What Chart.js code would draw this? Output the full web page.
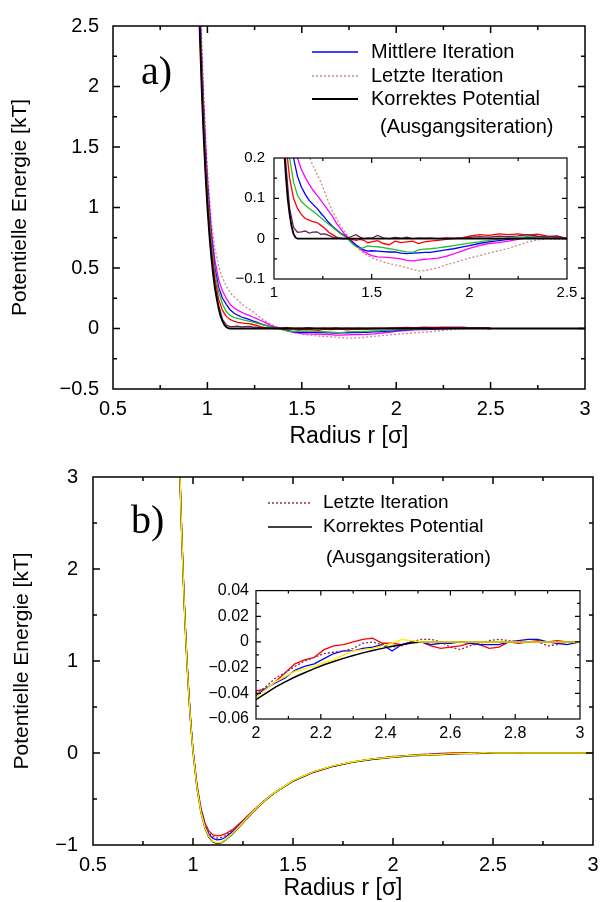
<!DOCTYPE html>
<html>
<head>
<meta charset="utf-8">
<script src="https://cdn.jsdelivr.net/npm/chart.js@4.4.0/dist/chart.umd.min.js"></script>
<style>
  body { margin: 0; background: #fff; }
  #fig { position: relative; width: 600px; height: 902px; overflow: hidden; background: #fff; }
  canvas { position: absolute; }
</style>
</head>
<body>
<div id="fig">
  <canvas id="mainA" width="600" height="450" style="left:0;top:0"></canvas>
  <canvas id="insetA" width="360" height="165" style="left:224px;top:140px"></canvas>
  <canvas id="mainB" width="600" height="452" style="left:0;top:450px"></canvas>
  <canvas id="insetB" width="400" height="172" style="left:196px;top:574px"></canvas>
</div>
<script>
// ---- panel a) : repulsive potential, iterations ----
const rA = [0.95, 0.96, 0.97, 0.98, 0.99, 1.00, 1.02, 1.04, 1.06, 1.08, 1.10, 1.12, 1.14, 1.16, 1.18, 1.20,
  1.22, 1.24, 1.26, 1.28, 1.30, 1.32, 1.34, 1.36, 1.38, 1.40, 1.42, 1.44, 1.46, 1.48, 1.50, 1.53, 1.56, 1.59,
  1.62, 1.65, 1.68, 1.71, 1.74, 1.77, 1.80, 1.84, 1.88, 1.92, 1.96, 2.00, 2.05, 2.10, 2.15, 2.20, 2.25, 2.30,
  2.35, 2.40, 2.45, 2.50];

const uPurpleA = [3.0, 2.48, 2.02, 1.64, 1.31, 1.04, 0.63, 0.36, 0.19, 0.075, 0.028, 0.016, 0.017, 0.019, 0.014, 0.016,
  0.017, 0.011, 0.012, 0.008, 0.004, 0.003, 0.001, 0.0, 0.002, 0.006, 0.01, 0.004, 0.0, 0.002, 0.001, 0.008, 0.002, 0.0,
  0.003, 0.001, 0.004, 0.0, 0.002, 0.001, 0.002, 0.0, 0.002, 0.001, 0.002, 0.003, 0.005, 0.004, 0.006, 0.005, 0.007, 0.01,
  0.006, 0.005, 0.006, 0.0];

const uRedA = [3.05, 2.55, 2.10, 1.71, 1.38, 1.10, 0.68, 0.41, 0.24, 0.15, 0.10, 0.075, 0.06, 0.05, 0.046, 0.042,
  0.04, 0.033, 0.026, 0.016, 0.01, 0.004, 0.001, 0.0, 0.0, -0.002, -0.004, -0.002, -0.004, -0.01, -0.008, -0.005, -0.012, -0.015,
  -0.006, -0.01, -0.008, -0.006, -0.012, -0.008, -0.006, -0.004, -0.002, 0.0, 0.002, 0.006, 0.01, 0.008, 0.012, 0.01, 0.012, 0.009,
  0.011, 0.006, 0.004, 0.0];

const uGreenA = [3.1, 2.6, 2.15, 1.76, 1.43, 1.15, 0.73, 0.46, 0.30, 0.20, 0.14, 0.108, 0.092, 0.083, 0.075, 0.068,
  0.06, 0.052, 0.044, 0.036, 0.028, 0.02, 0.012, 0.006, -0.002, -0.012, -0.02, -0.024, -0.022, -0.018, -0.019, -0.02, -0.022, -0.025,
  -0.027, -0.03, -0.033, -0.034, -0.028, -0.026, -0.025, -0.023, -0.02, -0.017, -0.014, -0.011, -0.008, -0.004, -0.002, 0.002, 0.003, 0.005,
  0.004, 0.004, 0.003, 0.0];

const uBlueA = [3.15, 2.64, 2.19, 1.8, 1.47, 1.19, 0.77, 0.50, 0.34, 0.25, 0.20, 0.155, 0.128, 0.11, 0.095, 0.085,
  0.075, 0.063, 0.052, 0.04, 0.03, 0.022, 0.014, 0.008, 0.0, -0.008, -0.016, -0.022, -0.028, -0.031, -0.03, -0.031, -0.032, -0.033,
  -0.033, -0.036, -0.037, -0.036, -0.035, -0.034, -0.034, -0.031, -0.028, -0.025, -0.021, -0.017, -0.012, -0.008, -0.005, -0.002, 0.0, 0.003,
  0.004, 0.005, 0.006, 0.0];

const uMagentaA = [3.25, 2.72, 2.26, 1.87, 1.54, 1.25, 0.83, 0.56, 0.40, 0.31, 0.25, 0.2, 0.172, 0.152, 0.135, 0.12,
  0.108, 0.095, 0.082, 0.068, 0.055, 0.038, 0.025, 0.012, 0.003, -0.006, -0.016, -0.025, -0.032, -0.037, -0.042, -0.045, -0.046, -0.047,
  -0.048, -0.05, -0.054, -0.055, -0.053, -0.051, -0.05, -0.048, -0.044, -0.038, -0.031, -0.024, -0.017, -0.012, -0.01, -0.006, -0.002, 0.002,
  0.003, 0.004, 0.004, 0.0];

const uLetzteA = [3.4, 2.85, 2.38, 1.98, 1.62, 1.32, 0.9, 0.66, 0.51, 0.42, 0.35, 0.30, 0.265, 0.235, 0.205, 0.18,
  0.16, 0.14, 0.115, 0.09, 0.068, 0.05, 0.032, 0.018, 0.005, -0.006, -0.018, -0.028, -0.036, -0.042, -0.047, -0.053, -0.058, -0.062,
  -0.065, -0.068, -0.072, -0.076, -0.08, -0.079, -0.077, -0.072, -0.065, -0.06, -0.054, -0.048, -0.042, -0.036, -0.03, -0.024, -0.016, -0.008,
  -0.003, 0.0, -0.002, 0.0];

const rKorrektA = [0.95, 0.96, 0.97, 0.98, 0.99, 1.00, 1.01, 1.02, 1.03, 1.04, 1.05, 1.06, 1.07, 1.08, 1.09, 1.10, 1.11, 1.12, 3.0];
const uKorrektA = [2.96, 2.42, 1.97, 1.59, 1.27, 1.00, 0.78, 0.60, 0.45, 0.33, 0.24, 0.16, 0.10, 0.06, 0.03, 0.012, 0.003, 0.0, 0.0];

// ---- panel b) : full potential, iterations ----
const rB = [0.93, 0.94, 0.95, 0.96, 0.97, 0.98, 0.99, 1.00, 1.02, 1.04, 1.06, 1.08, 1.10, 1.12, 1.14, 1.16,
  1.20, 1.25, 1.30, 1.35, 1.40, 1.50, 1.60, 1.70, 1.80, 1.90, 2.00, 2.03, 2.06, 2.09, 2.12, 2.15, 2.18, 2.21,
  2.24, 2.27, 2.30, 2.33, 2.36, 2.39, 2.42, 2.45, 2.48, 2.51, 2.54, 2.57, 2.60, 2.63, 2.66, 2.69, 2.72, 2.75,
  2.78, 2.81, 2.84, 2.87, 2.90, 2.93, 2.96, 3.00];

const uKorrektB = [3.39, 2.62, 1.98, 1.43, 0.98, 0.60, 0.28, 0.016, -0.382, -0.647, -0.816, -0.916, -0.967, -0.984, -0.976, -0.951,
  -0.875, -0.757, -0.641, -0.535, -0.444, -0.304, -0.208, -0.143, -0.098, -0.067, -0.045, -0.040, -0.0352, -0.0311, -0.0273, -0.024, -0.0208, -0.0178,
  -0.0152, -0.0128, -0.0105, -0.0085, -0.0066, -0.005, -0.0034, -0.0021, -0.0008, 0.0, 0.0, 0.0, 0.0, 0.0, 0.0, 0.0, 0.0, 0.0,
  0.0, 0.0, 0.0, 0.0, 0.0, 0.0, 0.0, 0.0];

const uYellowB = [3.39, 2.62, 1.98, 1.43, 0.98, 0.60, 0.28, 0.02, -0.378, -0.642, -0.81, -0.91, -0.96, -0.977, -0.97, -0.946,
  -0.87, -0.752, -0.637, -0.532, -0.441, -0.301, -0.205, -0.14, -0.095, -0.064, -0.043, -0.037, -0.031, -0.027, -0.023, -0.021, -0.019, -0.016,
  -0.014, -0.01, -0.007, -0.006, -0.005, -0.003, -0.001, 0.002, 0.001, 0.0, 0.0, 0.0, 0.0, 0.0, 0.0, 0.0, 0.0, 0.0,
  0.0, 0.0, 0.0, 0.0, 0.0, 0.0, 0.0, 0.0];

const uRedB = [3.4, 2.63, 1.99, 1.45, 1.0, 0.62, 0.30, 0.04, -0.35, -0.6, -0.76, -0.85, -0.89, -0.90, -0.895, -0.88,
  -0.83, -0.73, -0.628, -0.53, -0.442, -0.306, -0.212, -0.146, -0.1, -0.066, -0.038, -0.037, -0.031, -0.024, -0.017, -0.014, -0.012, -0.006,
  -0.003, -0.002, 0.0, 0.002, 0.003, -0.001, -0.001, -0.002, 0.0, 0.0, -0.003, -0.005, -0.004, -0.003, -0.001, -0.002, -0.005, -0.004,
  0.0, -0.001, 0.0, 0.001, 0.0, 0.001, 0.0, 0.0];

const uBlueB = [3.39, 2.62, 1.98, 1.44, 0.99, 0.61, 0.29, 0.03, -0.365, -0.625, -0.79, -0.885, -0.93, -0.945, -0.94, -0.918,
  -0.85, -0.745, -0.635, -0.532, -0.443, -0.304, -0.208, -0.143, -0.097, -0.065, -0.042, -0.036, -0.032, -0.028, -0.022, -0.019, -0.017, -0.013,
  -0.009, -0.007, -0.007, -0.005, -0.004, -0.002, -0.007, -0.002, 0.0, 0.0, -0.002, -0.001, -0.001, 0.0, -0.001, -0.002, -0.002, -0.002,
  0.0, 0.001, 0.002, 0.002, 0.0, -0.001, -0.002, 0.0];

const uLetzteB = [3.4, 2.63, 1.99, 1.44, 0.99, 0.61, 0.29, 0.035, -0.36, -0.615, -0.775, -0.87, -0.91, -0.925, -0.918, -0.9,
  -0.84, -0.738, -0.63, -0.528, -0.44, -0.302, -0.206, -0.142, -0.096, -0.064, -0.04, -0.035, -0.028, -0.024, -0.019, -0.015, -0.012, -0.009,
  -0.008, -0.007, -0.005, -0.001, 0.0, -0.002, -0.004, -0.003, 0.0, 0.002, 0.002, 0.0, -0.004, -0.006, -0.003, -0.001, 0.001, 0.002,
  0.001, 0.0, 0.0, 0.0, -0.003, -0.002, 0.0, 0.0];

const xTitle = 'Radius r [σ]';
const yTitle = 'Potentielle Energie [kT]';

Chart.defaults.font.family = "'Liberation Sans', Arial, sans-serif";
Chart.defaults.color = '#000';

const pts = (r, u) => r.map((x, i) => ({ x, y: u[i] }));
const fmt = (v) => String(+v.toFixed(4)).replace('-', '\u2212');

// box around the plot with inward ticks on all four sides
const frame = {
  id: 'frame',
  afterDatasetsDraw(chart, args, o) {
    const { ctx, chartArea: a, scales } = chart;
    ctx.save();
    ctx.strokeStyle = '#000';
    ctx.lineWidth = o.lw;
    ctx.strokeRect(a.left, a.top, a.right - a.left, a.bottom - a.top);
    const walk = (s, minor, major, fn) => {
      const n = Math.round((s.max - s.min) / minor);
      for (let i = 1; i < n; i++) {
        const v = s.min + i * minor;
        const q = v / major;
        fn(s.getPixelForValue(v), Math.abs(q - Math.round(q)) < 1e-6 ? o.major : o.minor);
      }
    };
    ctx.beginPath();
    walk(scales.x, o.xMinor, o.xMajor, (p, l) => {
      ctx.moveTo(p, a.bottom); ctx.lineTo(p, a.bottom - l);
      ctx.moveTo(p, a.top); ctx.lineTo(p, a.top + l);
    });
    walk(scales.y, o.yMinor, o.yMajor, (p, l) => {
      ctx.moveTo(a.left, p); ctx.lineTo(a.left + l, p);
      ctx.moveTo(a.right, p); ctx.lineTo(a.right - l, p);
    });
    ctx.stroke();
    ctx.restore();
  }
};

// hand-placed key + panel letter
const keyBox = {
  id: 'keyBox',
  afterDraw(chart, args, o) {
    if (!o.items) return;
    const ctx = chart.ctx;
    ctx.save();
    ctx.textBaseline = 'middle';
    ctx.fillStyle = '#000';
    ctx.font = o.font;
    o.items.forEach((it) => {
      if (it.ds != null) {
        const ds = chart.data.datasets[it.ds];
        ctx.strokeStyle = ds.borderColor;
        ctx.lineWidth = ds.borderWidth;
        ctx.setLineDash(ds.borderDash || []);
        ctx.beginPath();
        ctx.moveTo(o.x0, it.y);
        ctx.lineTo(o.x1, it.y);
        ctx.stroke();
      }
      ctx.fillText(it.text, it.x || o.tx, it.y);
    });
    ctx.font = "40px 'Liberation Serif', serif";
    ctx.textBaseline = 'alphabetic';
    ctx.fillText(o.tag, o.tagX, o.tagY);
    ctx.restore();
  }
};

function axis(min, max, step, size, pad, fit, title) {
  return {
    type: 'linear',
    min: min,
    max: max,
    grid: { display: false, drawTicks: false },
    border: { display: false },
    ticks: { stepSize: step, font: { size: size }, padding: pad, callback: fmt, maxRotation: 0, autoSkip: false },
    title: title || { display: false },
    afterFit: fit,
  };
}

function line(label, data, color, width, dash) {
  return {
    label: label,
    data: data,
    borderColor: color,
    backgroundColor: color,
    borderWidth: width,
    borderDash: dash || [],
    pointRadius: 0,
    tension: 0,
    fill: false,
  };
}

function setsA() {
  return [
    line('Korrektes Potential', pts(rKorrektA, uKorrektA), '#000000', 1.8),
    line('purple', pts(rA, uPurpleA), 'rgb(110,30,80)', 1.3),
    line('red', pts(rA, uRedA), '#ff0000', 1.3),
    line('green', pts(rA, uGreenA), 'rgb(40,190,40)', 1.3),
    line('Mittlere Iteration', pts(rA, uBlueA), '#0000ff', 1.3),
    line('magenta', pts(rA, uMagentaA), '#ff00ff', 1.3),
    line('Letzte Iteration', pts(rA, uLetzteA), 'rgb(200,140,140)', 1.3, [2, 2]),
  ];
}

function setsB() {
  return [
    line('yellow', pts(rB, uYellowB), '#ffee00', 1.4),
    line('Korrektes Potential', pts(rB, uKorrektB), '#000000', 1.5),
    line('Letzte Iteration', pts(rB, uLetzteB), 'rgb(140,40,100)', 1.3, [2, 2]),
    line('blue', pts(rB, uBlueB), '#0000ff', 1.3),
    line('red', pts(rB, uRedB), '#ff0000', 1.3),
  ];
}

const base = {
  responsive: false,
  animation: false,
  devicePixelRatio: 1,
  events: [],
};

new Chart(document.getElementById('mainA'), {
  type: 'line',
  data: { datasets: setsA() },
  plugins: [frame, keyBox],
  options: Object.assign({}, base, {
    layout: { padding: { left: 0, right: 15, top: 23, bottom: 0 } },
    scales: {
      x: axis(0.5, 3, 0.5, 20, 8, (s) => { s.height = 61; s.paddingRight = 0; },
        { display: true, text: xTitle, font: { size: 23 }, padding: { top: 0, bottom: 0 } }),
      y: axis(-0.5, 2.5, 0.5, 20, 14, (s) => { s.width = 113; },
        { display: true, text: yTitle, font: { size: 21 }, padding: { top: 8, bottom: 0 } }),
    },
    plugins: {
      legend: { display: false },
      tooltip: { enabled: false },
      frame: { lw: 1.5, xMajor: 0.5, xMinor: 0.25, yMajor: 0.5, yMinor: 0.25, major: 7, minor: 4 },
      keyBox: {
        font: "20px 'Liberation Sans', Arial, sans-serif",
        x0: 312, x1: 358, tx: 371,
        items: [
          { ds: 4, text: 'Mittlere Iteration', y: 52 },
          { ds: 6, text: 'Letzte Iteration', y: 76 },
          { ds: 0, text: 'Korrektes Potential', y: 99 },
          { text: '(Ausgangsiteration)', y: 127, x: 380 },
        ],
        tag: 'a)', tagX: 141, tagY: 84,
      },
    },
  }),
});

new Chart(document.getElementById('insetA'), {
  type: 'line',
  data: { datasets: setsA() },
  plugins: [frame],
  options: Object.assign({}, base, {
    layout: { padding: { left: 0, right: 17, top: 12, bottom: 0 } },
    scales: {
      x: axis(1, 2.5, 0.5, 15, 5, (s) => { s.height = 26; s.paddingRight = 0; }),
      y: axis(-0.1, 0.2, 0.1, 15, 9, (s) => { s.width = 50; }),
    },
    plugins: {
      legend: { display: false },
      tooltip: { enabled: false },
      frame: { lw: 1.2, xMajor: 0.5, xMinor: 0.25, yMajor: 0.1, yMinor: 0.05, major: 5, minor: 3 },
    },
  }),
});

new Chart(document.getElementById('mainB'), {
  type: 'line',
  data: { datasets: setsB() },
  plugins: [frame, keyBox],
  options: Object.assign({}, base, {
    layout: { padding: { left: 0, right: 7, top: 23, bottom: 0 } },
    scales: {
      x: axis(0.5, 3, 0.5, 20, 8, (s) => { s.height = 57; s.paddingRight = 0; },
        { display: true, text: xTitle, font: { size: 23 }, padding: { top: 0, bottom: 0 } }),
      y: axis(-1, 3, 1, 20, 15, (s) => { s.width = 93; },
        { display: true, text: yTitle, font: { size: 21 }, padding: { top: 10, bottom: 0 } }),
    },
    plugins: {
      legend: { display: false },
      tooltip: { enabled: false },
      frame: { lw: 1.5, xMajor: 0.5, xMinor: 0.25, yMajor: 1, yMinor: 0.5, major: 7, minor: 4 },
      keyBox: {
        font: "19px 'Liberation Sans', Arial, sans-serif",
        x0: 268, x1: 312, tx: 323,
        items: [
          { ds: 2, text: 'Letzte Iteration', y: 53 },
          { ds: 1, text: 'Korrektes Potential', y: 77 },
          { text: '(Ausgangsiteration)', y: 108, x: 326 },
        ],
        tag: 'b)', tagX: 131, tagY: 83,
      },
    },
  }),
});

new Chart(document.getElementById('insetB'), {
  type: 'line',
  data: { datasets: setsB() },
  plugins: [frame],
  options: Object.assign({}, base, {
    layout: { padding: { left: 0, right: 16, top: 12, bottom: 0 } },
    scales: {
      x: axis(2, 3, 0.2, 16, 5, (s) => { s.height = 27; s.paddingRight = 0; }),
      y: axis(-0.06, 0.04, 0.02, 16, 7, (s) => { s.width = 60; }),
    },
    plugins: {
      legend: { display: false },
      tooltip: { enabled: false },
      frame: { lw: 1.2, xMajor: 0.2, xMinor: 0.1, yMajor: 0.02, yMinor: 0.01, major: 5, minor: 3 },
    },
  }),
});
</script>
</body>
</html>
